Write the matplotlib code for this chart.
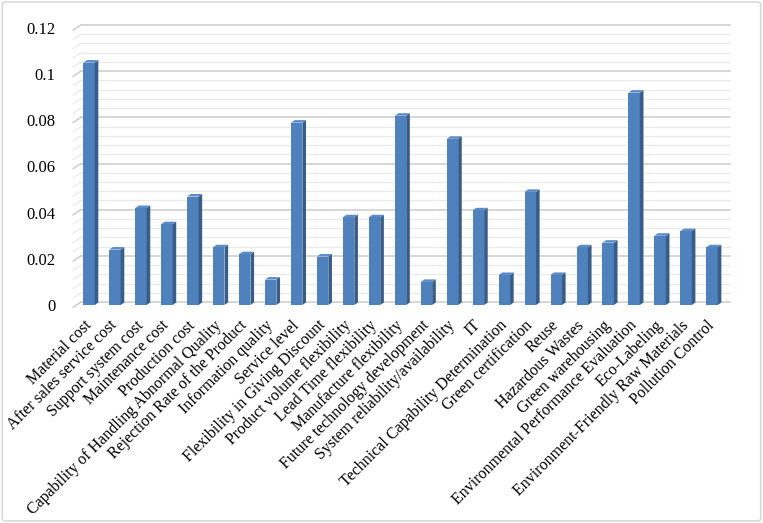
import matplotlib
matplotlib.use("Agg")
import matplotlib.pyplot as plt
import matplotlib.transforms as mtransforms
from matplotlib.patches import Polygon, FancyBboxPatch
import numpy as np

categories = [
    "Material cost", "After sales service cost", "Support system cost",
    "Maintenance cost", "Production cost", "Capability of Handling Abnormal Quality",
    "Rejection Rate of the Product", "Information quality", "Service level",
    "Flexibility in Giving Discount", "Product volume flexibility",
    "Lead Time flexibility", "Manufacture flexibility",
    "Future technology development", "System reliability/availability", "IT",
    "Technical Capability Determination", "Green certification", "Reuse",
    "Hazardous Wastes", "Green warehousing", "Environmental Performance Evaluation",
    "Eco-Labeling", "Environment-Friendly Raw Materials", "Pollution Control",
]
values = [
    0.105, 0.024, 0.042, 0.035, 0.047, 0.025, 0.022, 0.011, 0.079,
    0.021, 0.038, 0.038, 0.082, 0.010, 0.072, 0.041, 0.013, 0.049,
    0.013, 0.025, 0.027, 0.092, 0.030, 0.032, 0.025,
]
yticks = [0, 0.02, 0.04, 0.06, 0.08, 0.1, 0.12]
ytick_labels = ["0", "0.02", "0.04", "0.06", "0.08", "0.1", "0.12"]

FONT = "Liberation Serif"
W, H = 763, 523
fig = plt.figure(figsize=(W / 100, H / 100), dpi=100)

# outer frame
fig.patches.append(FancyBboxPatch((0.003, 0.004), 0.994, 0.992,
                                  boxstyle="round,pad=0,rounding_size=0.004",
                                  transform=fig.transFigure, fill=False,
                                  edgecolor="#D9D9D9", linewidth=1.2))

left, right, top, bottom = 76, 725, 28, 305
ax = fig.add_axes([left / W, 1 - bottom / H, (right - left) / W, (bottom - top) / H])
ax.set_xlim(-0.5, len(categories) - 0.5)
ax.set_ylim(0, 0.12)
for s in ax.spines.values():
    s.set_visible(False)

# back-wall gridlines (offset up/right for depth)
off = mtransforms.ScaledTranslation(5 / 100, 3 / 100, fig.dpi_scale_trans)
gtrans = ax.transData + off
xmin, xmax = -0.5, len(categories) - 0.5
minor = np.arange(0, 0.1201, 0.004)
for yv in minor:
    is_major = abs(round(yv / 0.02) * 0.02 - yv) < 1e-9
    col = "#D0D0D0" if is_major else "#EAEAEA"
    lw = 1.2 if is_major else 0.9
    ax.plot([xmin, xmax], [yv, yv], color=col, lw=lw, transform=gtrans,
            clip_on=False, zorder=0)
    # left-wall diagonal stub
    ax.plot([xmin - 0.3, xmin], [yv - 0.0022, yv], color=col, lw=lw,
            transform=gtrans, clip_on=False, zorder=0)

# 3D-looking bars
x = np.arange(len(categories))
bw = 0.44
dx = 0.14
dy = 0.0011
front = "#4F81BD"
side = "#385D8A"
topc = "#5C8CC7"
ax.bar(x, values, width=bw, color=front, edgecolor="none", zorder=3)
for xi, v in zip(x, values):
    xr = xi + bw / 2
    xl = xi - bw / 2
    ax.add_patch(Polygon([[xr, 0], [xr, v], [xr + dx, v + dy], [xr + dx, dy]],
                         closed=True, facecolor=side, edgecolor="none", zorder=3))
    ax.add_patch(Polygon([[xl, v], [xr, v], [xr + dx, v + dy], [xl + dx, v + dy]],
                         closed=True, facecolor=topc, edgecolor="none", zorder=3))

ax.set_yticks(yticks)
ax.set_yticklabels(ytick_labels, fontfamily=FONT, fontsize=12)
ax.tick_params(axis="y", length=0, pad=15)
ax.set_xticks(x)
ax.set_xticklabels(categories, rotation=45, ha="right", va="center",
                   rotation_mode="anchor", fontfamily=FONT, fontsize=11.5)
ax.tick_params(axis="x", length=0, pad=13)

fig.savefig("out.png", dpi=100)
